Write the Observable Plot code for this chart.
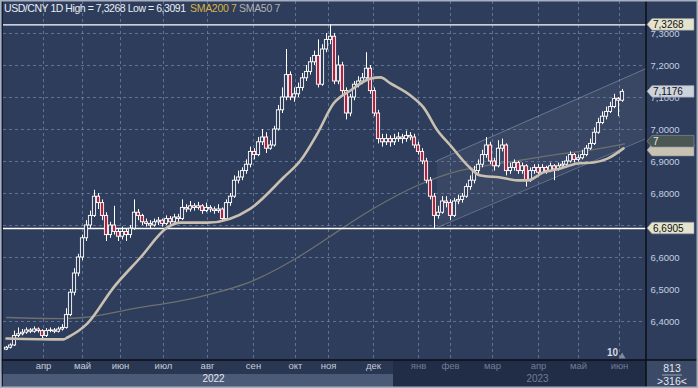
<!DOCTYPE html>
<html><head><meta charset="utf-8">
<script src="https://cdn.jsdelivr.net/npm/d3@7"></script>
<script src="https://cdn.jsdelivr.net/npm/@observablehq/plot@0.6"></script>
<style>
body{margin:0;background:#2e3d5b;}
#wrap{position:relative;width:698px;height:388px;overflow:hidden;}
</style>
</head><body><div id="wrap"></div>
<script>
// ---- data (2-day candles, USD/CNY, Mar 2022 - Jun 2023) ----
const firstOpen = 6.312;
const closes = [6.318,6.325,6.355,6.360,6.365,6.372,6.368,6.375,6.370,6.355,
6.370,6.372,6.368,6.375,6.380,6.420,6.490,6.550,6.600,6.660,
6.700,6.730,6.790,6.770,6.730,6.670,6.700,6.680,6.665,6.680,
6.670,6.690,6.740,6.730,6.710,6.705,6.700,6.710,6.715,6.705,
6.720,6.710,6.725,6.720,6.755,6.750,6.760,6.755,6.760,6.745,
6.755,6.750,6.745,6.750,6.720,6.770,6.790,6.840,6.850,6.870,
6.890,6.930,6.920,6.960,6.975,6.940,6.950,7.000,7.060,7.100,
7.170,7.100,7.110,7.130,7.160,7.180,7.210,7.230,7.140,7.250,
7.280,7.290,7.150,7.200,7.120,7.050,7.100,7.140,7.150,7.160,
7.190,7.120,7.050,6.970,6.960,6.970,6.960,6.970,6.975,6.970,
6.980,6.975,6.950,6.930,6.900,6.840,6.790,6.730,6.740,6.775,
6.770,6.730,6.775,6.780,6.790,6.820,6.840,6.870,6.890,6.920,
6.950,6.900,6.885,6.940,6.950,6.870,6.880,6.895,6.870,6.885,
6.840,6.870,6.880,6.865,6.880,6.870,6.885,6.875,6.885,6.890,
6.900,6.920,6.905,6.910,6.920,6.940,6.955,6.990,7.020,7.040,
7.055,7.070,7.095,7.090,7.1176];
const highs = [6.322,6.330,6.370,6.380,6.375,6.380,6.378,6.383,6.380,6.374,
6.378,6.380,6.378,6.382,6.390,6.440,6.500,6.565,6.610,6.670,
6.715,6.745,6.810,6.800,6.780,6.740,6.710,6.760,6.690,6.695,
6.690,6.700,6.780,6.750,6.735,6.720,6.715,6.720,6.725,6.720,
6.730,6.728,6.735,6.735,6.780,6.765,6.775,6.768,6.772,6.765,
6.770,6.762,6.758,6.765,6.755,6.780,6.800,6.855,6.870,6.880,
6.905,6.945,6.940,6.975,7.000,6.990,6.965,7.010,7.075,7.130,
7.250,7.180,7.130,7.145,7.175,7.200,7.225,7.245,7.280,7.265,
7.300,7.3268,7.300,7.230,7.210,7.130,7.110,7.150,7.165,7.175,
7.240,7.200,7.130,7.060,6.985,6.985,6.980,6.985,6.990,6.985,
6.995,6.990,6.985,6.960,6.940,6.910,6.850,6.800,6.760,6.790,
6.790,6.780,6.785,6.795,6.800,6.830,6.855,6.885,6.905,6.935,
6.975,6.960,6.910,6.965,6.970,6.955,6.895,6.905,6.900,6.895,
6.890,6.880,6.890,6.890,6.890,6.885,6.895,6.890,6.895,6.900,
6.915,6.930,6.925,6.920,6.935,6.950,6.970,7.005,7.035,7.055,
7.070,7.085,7.110,7.100,7.125];
const lows = [6.309,6.314,6.322,6.350,6.355,6.360,6.362,6.363,6.364,6.342,
6.350,6.365,6.362,6.364,6.370,6.376,6.415,6.480,6.540,6.590,
6.650,6.690,6.725,6.750,6.715,6.650,6.660,6.670,6.650,6.655,
6.650,6.660,6.685,6.715,6.700,6.695,6.690,6.695,6.700,6.695,
6.700,6.700,6.705,6.710,6.715,6.740,6.742,6.745,6.748,6.735,
6.740,6.740,6.735,6.738,6.710,6.715,6.760,6.785,6.830,6.840,
6.860,6.880,6.905,6.915,6.950,6.925,6.935,6.945,6.995,7.050,
7.090,7.090,7.085,7.100,7.120,7.150,7.170,7.200,7.130,7.135,
7.240,7.265,7.140,7.140,7.110,7.030,7.040,7.090,7.130,7.140,
7.150,7.110,7.040,6.955,6.945,6.950,6.945,6.950,6.960,6.955,
6.960,6.965,6.940,6.920,6.890,6.830,6.780,6.6905,6.720,6.735,
6.755,6.715,6.725,6.765,6.770,6.785,6.810,6.830,6.860,6.880,
6.910,6.890,6.870,6.880,6.930,6.855,6.860,6.870,6.860,6.860,
6.820,6.835,6.860,6.855,6.860,6.860,6.865,6.840,6.870,6.875,
6.880,6.895,6.895,6.898,6.905,6.915,6.935,6.950,6.985,7.015,
7.030,7.050,7.065,7.040,7.085];

const sma50Idx = [0,14.25,15.25,20.25,26.75,33.5,40.25,43.5,50.25,61,69.25,73.5,77.75,81.75,86,91,93.5,96,101,104.25,107.75,111,115.25,118.5,123.5,127.75,130.25,134.25,138.5,142.75,146.75,150.25,154.25];
const sma50Val = [6.347,6.344,6.350,6.394,6.506,6.600,6.694,6.709,6.709,6.753,6.850,6.903,6.988,7.081,7.122,7.159,7.163,7.144,7.106,7.069,6.997,6.950,6.888,6.856,6.850,6.841,6.841,6.866,6.878,6.894,6.897,6.909,6.941];
const sma200Idx = [0,14.25,19.25,31.75,48.5,61.75,72.75,80.5,84.25,91.75,102.75,113.5,123.5,136,148.5,154.5];
const sma200Val = [6.4125,6.409,6.4125,6.44,6.478,6.528,6.60,6.6625,6.694,6.753,6.825,6.872,6.894,6.919,6.941,6.955];

const channelIdx = [107.75, 160];
const channelUpper = [6.903, 7.191];
const channelLower = [6.694, 6.972];

const highLevel = 7.3268, lowLevel = 6.6905, lastPrice = 7.1176;
const yTicks = [6.4,6.5,6.6,6.7,6.8,6.9,7.0,7.1,7.2,7.3];
const monthLabels = ["апр","май","июн","июл","авг","сен","окт","ноя","дек","янв","фев","мар","апр","май","июн"];
const monthIdx = [9.25,19,28.5,39.25,50.25,61.75,72.25,80.5,91.75,103,111,121.5,133,143,153.25];
const yearLabels = ["2022","2023"];
const yearIdx = [51.75,132.75];
const yearBoundaryIdx = 96.75;
const tagValues = [highLevel, lastPrice, 6.934, 6.962, lowLevel];
const tagTexts = ["7,3268","7,1176","","7","6,6905"];
const tagFills = ["#e4e4cc","#cdd3dd","#c9c1b1","#4b5752","#e4e4cc"];
const tagInk = ["#111","#111","#111","#e8e8e8","#111"];

// ---- build tables ----
const candles = closes.map((c,i)=>({i, open: i ? closes[i-1] : firstOpen, close:c, high:highs[i], low:lows[i]}));
const up = candles.filter(d=>d.close>=d.open), down = candles.filter(d=>d.close<d.open);
const sma50 = sma50Idx.map((x,j)=>({x, y:sma50Val[j]}));
const sma200 = sma200Idx.map((x,j)=>({x, y:sma200Val[j]}));
const channel = channelIdx.map((x,j)=>({x, hi:channelUpper[j], lo:channelLower[j]}));
const months = monthLabels.map((t,j)=>({x:monthIdx[j], t, y23: monthIdx[j] > yearBoundaryIdx}));
const years = yearLabels.map((t,j)=>({x:yearIdx[j], t}));

const BG = "#2e3d5b";
const FONT = "'Liberation Sans', Arial, sans-serif";
const fmt = d => d.toFixed(4).replace(".", ",");

const chart = Plot.plot({
  width: 698, height: 388,
  marginLeft: 3, marginRight: 52, marginTop: 1, marginBottom: 28,
  x: {domain: [-0.75, 160], axis: null},
  y: {domain: [6.278125, 7.4], axis: null},
  style: {background: "transparent", fontFamily: FONT},
  marks: [
    Plot.areaY(channel, {x: "x", y1: "lo", y2: "hi", fill: "#ffffff", fillOpacity: 0.055}),
    Plot.ruleY(yTicks, {stroke: "#7084a6", strokeOpacity: 0.75, strokeDasharray: "3,3"}),
    Plot.ruleX(monthIdx, {stroke: "#7084a6", strokeOpacity: 0.75, strokeDasharray: "3,3"}),
    Plot.line(channel, {x: "x", y: "hi", stroke: "#8d9ab0", strokeOpacity: 0.55, strokeWidth: 1}),
    Plot.line(channel, {x: "x", y: "lo", stroke: "#8d9ab0", strokeOpacity: 0.55, strokeWidth: 1}),
    Plot.line(sma200, {x: "x", y: "y", stroke: "#6c706f", strokeWidth: 1.3, curve: "monotone-x"}),
    Plot.ruleY([highLevel, lowLevel], {stroke: "#ffffff", strokeWidth: 1.4}),
    Plot.ruleX(candles, {x: "i", y1: "low", y2: "high", stroke: "#ffffff", strokeWidth: 1}),
    Plot.rect(up, {x1: d=>d.i-0.4, x2: d=>d.i+0.4, y1: "open", y2: "close", fill: BG, stroke: "#ffffff", strokeWidth: 0.9}),
    Plot.rect(down, {x1: d=>d.i-0.4, x2: d=>d.i+0.4, y1: "open", y2: "close", fill: "#b3213f", stroke: "#ffffff", strokeWidth: 0.9}),
    Plot.line(sma50, {x: "x", y: "y", stroke: "#c9c0b1", strokeWidth: 2.6, curve: "monotone-x"}),
    Plot.axisY(yTicks, {anchor: "right", tickSize: 0, tickPadding: 4, tickFormat: fmt, fill: "#c5cde0", fontSize: 9.5, label: null}),
    Plot.text(months.filter(d=>!d.y23), {x: "x", text: "t", frameAnchor: "bottom", dy: 8, fill: "#c4ccda", fontSize: 9.5}),
    Plot.text(months.filter(d=>d.y23), {x: "x", text: "t", frameAnchor: "bottom", dy: 8, fill: "#6f7d98", fontSize: 9.5}),
    Plot.text(years.slice(0,1), {x: "x", text: "t", frameAnchor: "bottom", dy: 21, fill: "#e2e6ee", fontSize: 10}),
    Plot.text(years.slice(1), {x: "x", text: "t", frameAnchor: "bottom", dy: 21, fill: "#6f7d98", fontSize: 10}),
    Plot.text([{x: 151.5, t: "10"}], {x: "x", text: "t", frameAnchor: "bottom", dy: -5, fill: "#d4dae6", fontSize: 10, fontWeight: "bold"}),
    Plot.dot([{x: 153.9}], {x: "x", frameAnchor: "bottom", dy: -4, symbol: "triangle", r: 2.6, fill: "#7f8aa0", stroke: "none"})
  ]
});
document.getElementById("wrap").appendChild(chart);

// ---- chrome: panels, frame, title, price tags ----
const svg = d3.select(chart);
const xs = chart.scale("x"), ys = chart.scale("y");
const plotR = xs.apply(160), plotB = ys.apply(6.278125);
const yb = xs.apply(yearBoundaryIdx);
const bg = svg.insert("g", ":first-child");
bg.append("rect").attr("x",0).attr("y",0).attr("width",698).attr("height",388).attr("fill",BG);
bg.append("rect").attr("x",0).attr("y",plotB).attr("width",yb).attr("height",14).attr("fill","#2a3752");
bg.append("rect").attr("x",0).attr("y",plotB+14).attr("width",yb).attr("height",388-plotB-14).attr("fill","#4b5a77");
bg.append("rect").attr("x",yb).attr("y",plotB).attr("width",plotR-yb).attr("height",388-plotB).attr("fill","#212d46");
bg.append("rect").attr("x",plotR).attr("y",plotB).attr("width",698-plotR).attr("height",388-plotB).attr("fill","#3b4a67");

const fg = svg.append("g").attr("text-anchor","start");
fg.append("line").attr("x1",plotR).attr("x2",plotR).attr("y1",0).attr("y2",388).attr("stroke","#0b0e16").attr("stroke-width",1.5);
fg.append("line").attr("x1",0).attr("x2",698).attr("y1",plotB).attr("y2",plotB).attr("stroke","#0b0e16").attr("stroke-width",1.5);
fg.append("line").attr("x1",2.5).attr("x2",2.5).attr("y1",0).attr("y2",388).attr("stroke","#141a28").attr("stroke-width",1);
fg.append("rect").attr("x",0.75).attr("y",0.75).attr("width",696.5).attr("height",386.5).attr("fill","none").attr("stroke","#a7b0bf").attr("stroke-width",1.5);
// bottom-right counter box
const cx = (plotR+698)/2;
fg.append("text").attr("x",cx).attr("y",plotB+12).attr("text-anchor","middle").attr("fill","#e4e8ef").attr("font-size",10.5).attr("font-family",FONT).text("813");
fg.append("line").attr("x1",cx-10).attr("x2",cx+10).attr("y1",plotB+15).attr("y2",plotB+15).attr("stroke","#9aa4b6").attr("stroke-width",1);
fg.append("text").attr("x",cx).attr("y",plotB+25).attr("text-anchor","middle").attr("fill","#e4e8ef").attr("font-size",10.5).attr("font-family",FONT).text(">316<");

// title
const title = fg.append("text").attr("x",4).attr("y",12).attr("font-size",10.5).attr("font-family",FONT).attr("text-anchor","start");
title.append("tspan").attr("fill","#e9edf4").attr("letter-spacing","-0.45").text("USD/CNY 1D High = 7,3268 Low = 6,3091");
title.append("tspan").attr("x",190).attr("fill","#d6b246").attr("letter-spacing","-0.3").text("SMA200 7");
title.append("tspan").attr("x",239).attr("fill","#b3b3b3").attr("letter-spacing","-0.3").text("SMA50 7");

// price tags on the right scale
tagValues.forEach((v,j)=>{
  const y = ys.apply(v), x0 = plotR + 1, h = 5.8;
  fg.append("path")
    .attr("d", `M${x0},${y} L${x0+5},${y-h} L${x0+47},${y-h} L${x0+47},${y+h} L${x0+5},${y+h} Z`)
    .attr("fill", tagFills[j]).attr("stroke", "#8a93a3").attr("stroke-width", 0.6);
  if (tagTexts[j]) fg.append("text").attr("x", x0+6).attr("y", y+3.6).attr("text-anchor","start").attr("fill", tagInk[j])
    .attr("font-size", 10).attr("font-family", FONT).text(tagTexts[j]);
});
</script></body></html>
